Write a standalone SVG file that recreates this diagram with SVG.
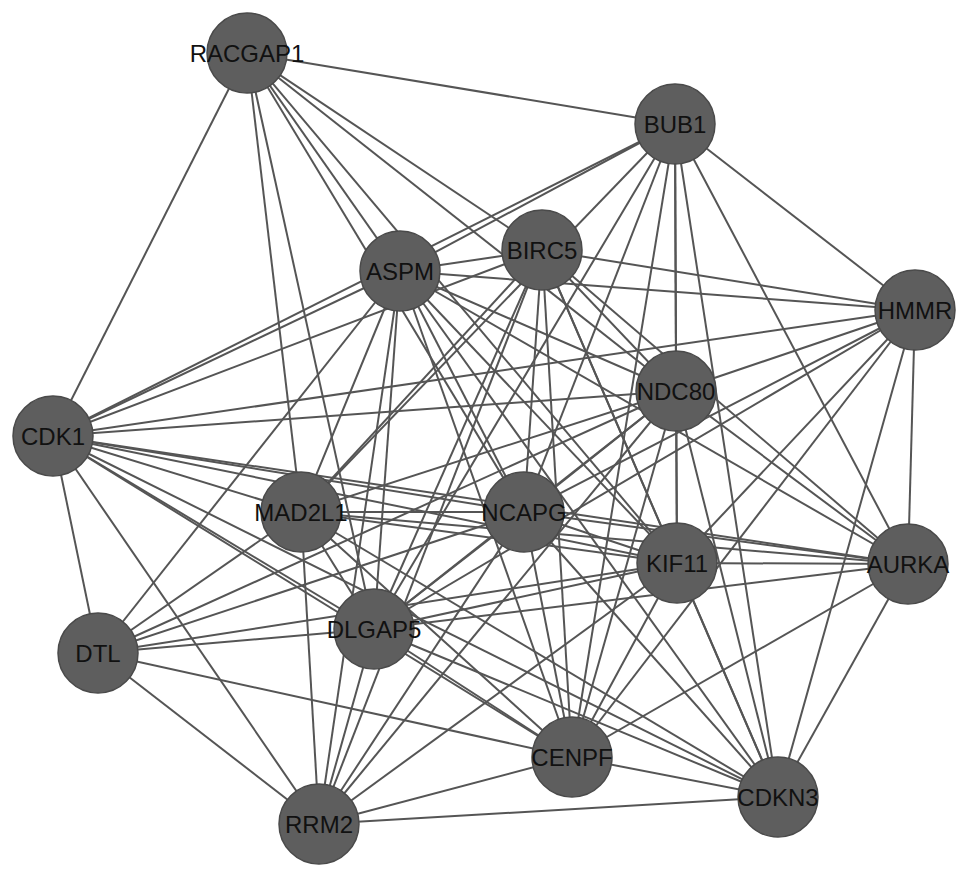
<svg xmlns="http://www.w3.org/2000/svg" width="969" height="878" viewBox="0 0 969 878">
<style>
.e line{stroke:#555;stroke-width:2;fill:none}
.n circle{fill:#5e5e5e;stroke:#4a4a4a;stroke-width:1.5}
.n text{font-family:"Liberation Sans",Arial,sans-serif;font-size:24px;fill:#111;text-anchor:middle}
</style>
<rect width="969" height="878" fill="#fff"/>
<g id="edges" class="e">
<!-- RACGAP1 -->
<line x1="247" y1="53" x2="675" y2="124"/>
<line x1="247" y1="53" x2="53" y2="436"/>
<line x1="247" y1="53" x2="301" y2="512"/>
<line x1="247" y1="53" x2="374" y2="629"/>
<line x1="247" y1="53" x2="400" y2="271"/>
<line x1="247" y1="53" x2="524" y2="512"/>
<line x1="247" y1="53" x2="542" y2="250"/>
<line x1="247" y1="53" x2="676" y2="391"/>
<line x1="247" y1="53" x2="677" y2="563"/>
<!-- BUB1 -->
<line x1="675" y1="124" x2="400" y2="271"/>
<line x1="675" y1="124" x2="53" y2="436"/>
<line x1="675" y1="124" x2="301" y2="512"/>
<line x1="675" y1="124" x2="374" y2="629"/>
<line x1="675" y1="124" x2="524" y2="512"/>
<line x1="675" y1="124" x2="572" y2="757"/>
<line x1="675" y1="124" x2="676" y2="391"/>
<line x1="675" y1="124" x2="677" y2="563"/>
<line x1="675" y1="124" x2="778" y2="797"/>
<line x1="675" y1="124" x2="908" y2="564"/>
<line x1="675" y1="124" x2="915" y2="310"/>
<!-- ASPM -->
<line x1="400" y1="271" x2="53" y2="436"/>
<line x1="400" y1="271" x2="542" y2="250"/>
<line x1="400" y1="271" x2="915" y2="310"/>
<line x1="400" y1="271" x2="676" y2="391"/>
<line x1="400" y1="271" x2="301" y2="512"/>
<line x1="400" y1="271" x2="374" y2="629"/>
<line x1="400" y1="271" x2="524" y2="512"/>
<line x1="400" y1="271" x2="677" y2="563"/>
<line x1="400" y1="271" x2="572" y2="757"/>
<line x1="400" y1="271" x2="778" y2="797"/>
<line x1="400" y1="271" x2="319" y2="824"/>
<line x1="400" y1="271" x2="98" y2="653"/>
<line x1="400" y1="271" x2="908" y2="564"/>
<!-- BIRC5 -->
<line x1="542" y1="250" x2="915" y2="310"/>
<line x1="542" y1="250" x2="676" y2="391"/>
<line x1="542" y1="250" x2="301" y2="512"/>
<line x1="542" y1="250" x2="374" y2="629"/>
<line x1="542" y1="250" x2="524" y2="512"/>
<line x1="542" y1="250" x2="677" y2="563"/>
<line x1="542" y1="250" x2="572" y2="757"/>
<line x1="542" y1="250" x2="778" y2="797"/>
<line x1="542" y1="250" x2="319" y2="824"/>
<line x1="542" y1="250" x2="908" y2="564"/>
<line x1="542" y1="250" x2="53" y2="436"/>
<!-- HMMR -->
<line x1="915" y1="310" x2="53" y2="436"/>
<line x1="915" y1="310" x2="676" y2="391"/>
<line x1="915" y1="310" x2="524" y2="512"/>
<line x1="915" y1="310" x2="374" y2="629"/>
<line x1="915" y1="310" x2="677" y2="563"/>
<line x1="915" y1="310" x2="572" y2="757"/>
<line x1="915" y1="310" x2="778" y2="797"/>
<line x1="915" y1="310" x2="908" y2="564"/>
<!-- NDC80 -->
<line x1="676" y1="391" x2="53" y2="436"/>
<line x1="676" y1="391" x2="301" y2="512"/>
<line x1="676" y1="391" x2="524" y2="512"/>
<line x1="676" y1="391" x2="374" y2="629"/>
<line x1="676" y1="391" x2="98" y2="653"/>
<line x1="676" y1="391" x2="677" y2="563"/>
<line x1="676" y1="391" x2="572" y2="757"/>
<line x1="676" y1="391" x2="778" y2="797"/>
<line x1="676" y1="391" x2="319" y2="824"/>
<line x1="676" y1="391" x2="908" y2="564"/>
<!-- CDK1 -->
<line x1="53" y1="436" x2="98" y2="653"/>
<line x1="53" y1="436" x2="319" y2="824"/>
<line x1="53" y1="436" x2="524" y2="512"/>
<line x1="53" y1="436" x2="301" y2="512"/>
<line x1="53" y1="436" x2="677" y2="563"/>
<line x1="53" y1="436" x2="908" y2="564"/>
<line x1="53" y1="436" x2="374" y2="629"/>
<line x1="53" y1="436" x2="572" y2="757"/>
<line x1="53" y1="436" x2="778" y2="797"/>
<!-- MAD2L1 -->
<line x1="301" y1="512" x2="524" y2="512"/>
<line x1="301" y1="512" x2="677" y2="563"/>
<line x1="301" y1="512" x2="908" y2="564"/>
<line x1="301" y1="512" x2="374" y2="629"/>
<line x1="301" y1="512" x2="572" y2="757"/>
<line x1="301" y1="512" x2="778" y2="797"/>
<line x1="301" y1="512" x2="319" y2="824"/>
<line x1="301" y1="512" x2="98" y2="653"/>
<!-- NCAPG -->
<line x1="524" y1="512" x2="677" y2="563"/>
<line x1="524" y1="512" x2="908" y2="564"/>
<line x1="524" y1="512" x2="374" y2="629"/>
<line x1="524" y1="512" x2="572" y2="757"/>
<line x1="524" y1="512" x2="778" y2="797"/>
<line x1="524" y1="512" x2="319" y2="824"/>
<line x1="524" y1="512" x2="98" y2="653"/>
<!-- KIF11 -->
<line x1="677" y1="563" x2="908" y2="564"/>
<line x1="677" y1="563" x2="374" y2="629"/>
<line x1="677" y1="563" x2="572" y2="757"/>
<line x1="677" y1="563" x2="778" y2="797"/>
<line x1="677" y1="563" x2="319" y2="824"/>
<line x1="677" y1="563" x2="98" y2="653"/>
<!-- AURKA -->
<line x1="908" y1="564" x2="374" y2="629"/>
<line x1="908" y1="564" x2="572" y2="757"/>
<line x1="908" y1="564" x2="778" y2="797"/>
<!-- DLGAP5 -->
<line x1="374" y1="629" x2="98" y2="653"/>
<line x1="374" y1="629" x2="572" y2="757"/>
<line x1="374" y1="629" x2="778" y2="797"/>
<line x1="374" y1="629" x2="319" y2="824"/>
<!-- DTL -->
<line x1="98" y1="653" x2="572" y2="757"/>
<line x1="98" y1="653" x2="319" y2="824"/>
<!-- CENPF -->
<line x1="572" y1="757" x2="778" y2="797"/>
<line x1="572" y1="757" x2="319" y2="824"/>
<!-- CDKN3 -->
<line x1="778" y1="797" x2="319" y2="824"/>
</g>
<g id="RACGAP1" class="n"><circle cx="247" cy="53" r="40"/><text x="247" y="62">RACGAP1</text></g>
<g id="BUB1" class="n"><circle cx="675" cy="124" r="40"/><text x="675" y="133">BUB1</text></g>
<g id="ASPM" class="n"><circle cx="400" cy="271" r="40"/><text x="400" y="280">ASPM</text></g>
<g id="BIRC5" class="n"><circle cx="542" cy="250" r="40"/><text x="542" y="259">BIRC5</text></g>
<g id="HMMR" class="n"><circle cx="915" cy="310" r="40"/><text x="915" y="319">HMMR</text></g>
<g id="NDC80" class="n"><circle cx="676" cy="391" r="40"/><text x="676" y="400">NDC80</text></g>
<g id="CDK1" class="n"><circle cx="53" cy="436" r="40"/><text x="53" y="445">CDK1</text></g>
<g id="MAD2L1" class="n"><circle cx="301" cy="512" r="40"/><text x="301" y="521">MAD2L1</text></g>
<g id="NCAPG" class="n"><circle cx="524" cy="512" r="40"/><text x="524" y="521">NCAPG</text></g>
<g id="KIF11" class="n"><circle cx="677" cy="563" r="40"/><text x="677" y="572">KIF11</text></g>
<g id="AURKA" class="n"><circle cx="908" cy="564" r="40"/><text x="908" y="573">AURKA</text></g>
<g id="DLGAP5" class="n"><circle cx="374" cy="629" r="40"/><text x="374" y="638">DLGAP5</text></g>
<g id="DTL" class="n"><circle cx="98" cy="653" r="40"/><text x="98" y="662">DTL</text></g>
<g id="CENPF" class="n"><circle cx="572" cy="757" r="40"/><text x="572" y="766">CENPF</text></g>
<g id="CDKN3" class="n"><circle cx="778" cy="797" r="40"/><text x="778" y="806">CDKN3</text></g>
<g id="RRM2" class="n"><circle cx="319" cy="824" r="40"/><text x="319" y="833">RRM2</text></g>
</svg>
